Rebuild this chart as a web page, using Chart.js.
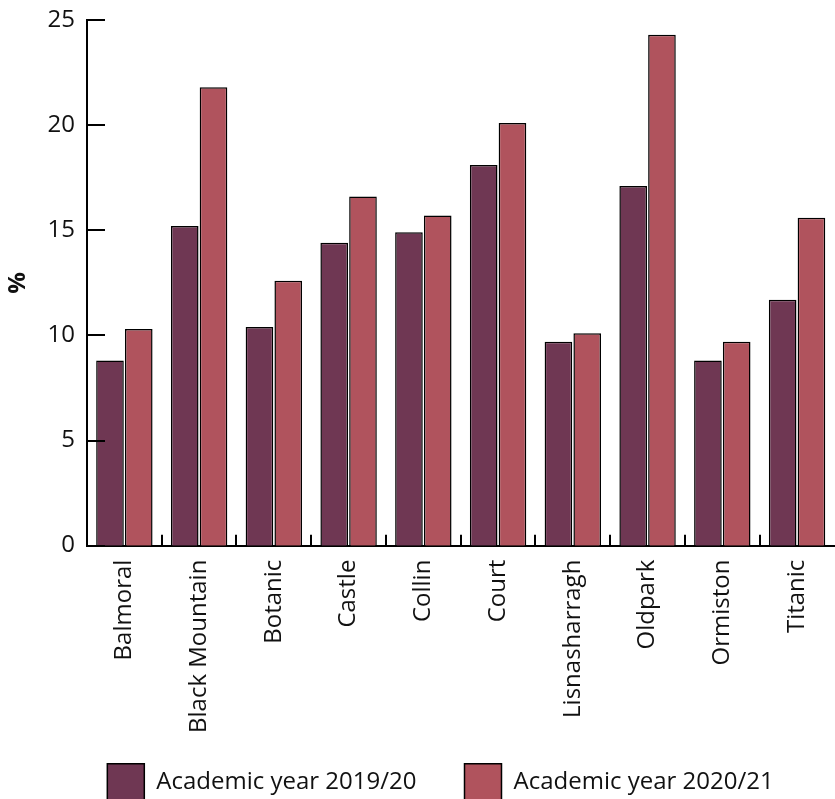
<!DOCTYPE html>
<html>
<head>
<meta charset="utf-8">
<title>Academic year comparison</title>
<script src="https://cdn.jsdelivr.net/npm/chart.js@4/dist/chart.umd.min.js"></script>
<style>
  html, body { margin: 0; padding: 0; background: #fff; overflow: hidden; }
  #wrap { width: 840px; height: 842px; }
</style>
</head>
<body>
<div id="wrap"><canvas id="grafico" width="840" height="842"></canvas></div>
<script>
// Dados
const areas = ['Balmoral', 'Black Mountain', 'Botanic', 'Castle', 'Collin', 'Court', 'Lisnasharragh', 'Oldpark', 'Ormiston', 'Titanic'];
const ano2019 = [8.8, 15.2, 10.4, 14.4, 14.9, 18.1, 9.7, 17.1, 8.8, 11.7];
const ano2020 = [10.3, 21.8, 12.6, 16.6, 15.7, 20.1, 10.1, 24.3, 9.7, 15.6];
const rotulosSeries = ['Academic year 2019/20', 'Academic year 2020/21'];
const ticksY = [0, 5, 10, 15, 20, 25];

const corRoxo = '#6f3753';
const corVermelho = '#b0535d';
const fonte = { family: '"Open Sans", "Noto Sans", sans-serif', size: 24 };

// Marcas de escala desenhadas para dentro da área do gráfico
const marcasInternas = {
    id: 'marcasInternas',
    afterDraw(chart) {
        const { ctx, scales: { x, y }, chartArea } = chart;
        ctx.save();
        ctx.strokeStyle = '#000';
        ctx.lineWidth = 2;
        ctx.beginPath();
        ticksY.forEach(v => {
            const py = Math.round(y.getPixelForValue(v));
            ctx.moveTo(chartArea.left, py);
            ctx.lineTo(chartArea.left + 18, py);
        });
        for (let i = 0; i < areas.length - 1; i++) {
            const px = Math.round((x.getPixelForValue(i) + x.getPixelForValue(i + 1)) / 2);
            ctx.moveTo(px, chartArea.bottom);
            ctx.lineTo(px, chartArea.bottom - 11);
        }
        ctx.stroke();
        ctx.restore();
    }
};

// Reposiciona a legenda: um pouco à direita e subindo sobre a área dos rótulos
const ajusteLegenda = {
    id: 'ajusteLegenda',
    afterLayout(chart) {
        const legenda = chart.legend;
        const dy = (chart.chartArea.bottom + 170) - legenda.top;
        legenda.left += 22;
        legenda.right += 22;
        legenda.top += dy;
        legenda.bottom += dy;
    }
};

new Chart(document.getElementById('grafico'), {
    type: 'bar',
    data: {
        labels: areas,
        datasets: [{
            label: rotulosSeries[0],
            data: ano2019,
            backgroundColor: corRoxo,
            borderColor: '#000',
            borderWidth: 1.5,
            categoryPercentage: 0.77,
            barPercentage: 0.96
        }, {
            label: rotulosSeries[1],
            data: ano2020,
            backgroundColor: corVermelho,
            borderColor: '#000',
            borderWidth: 1.5,
            categoryPercentage: 0.77,
            barPercentage: 0.96
        }]
    },
    options: {
        responsive: false,
        animation: false,
        devicePixelRatio: 1,
        layout: { padding: { top: 20, right: 3, left: 0, bottom: 0 } },
        plugins: {
            tooltip: { enabled: false },
            legend: {
                position: 'bottom',
                labels: {
                    boxWidth: 37,
                    boxHeight: 37,
                    padding: 48,
                    color: '#111',
                    font: fonte,
                    generateLabels(chart) {
                        return chart.data.datasets.map((ds, i) => ({
                            text: ds.label,
                            fillStyle: ds.backgroundColor,
                            strokeStyle: '#000',
                            lineWidth: 1.5,
                            datasetIndex: i,
                            fontColor: '#111'
                        }));
                    }
                }
            }
        },
        scales: {
            x: {
                grid: { display: false, drawTicks: false },
                border: { display: true, color: '#000', width: 2 },
                ticks: {
                    color: '#111',
                    font: fonte,
                    minRotation: 90,
                    maxRotation: 90,
                    autoSkip: false,
                    padding: 14
                }
            },
            y: {
                min: 0,
                max: 25,
                grid: { display: false, drawTicks: false },
                border: { display: true, color: '#000', width: 2 },
                ticks: {
                    stepSize: 5,
                    color: '#111',
                    font: fonte,
                    padding: 12
                },
                title: {
                    display: true,
                    text: '%',
                    color: '#111',
                    font: { family: fonte.family, size: 24, weight: 'bold' },
                    padding: { top: 4, bottom: 0 }
                },
                afterFit(scale) {
                    scale.width = 87;
                    scale.paddingTop = 0;
                }
            }
        }
    },
    plugins: [marcasInternas, ajusteLegenda]
});
</script>
</body>
</html>
